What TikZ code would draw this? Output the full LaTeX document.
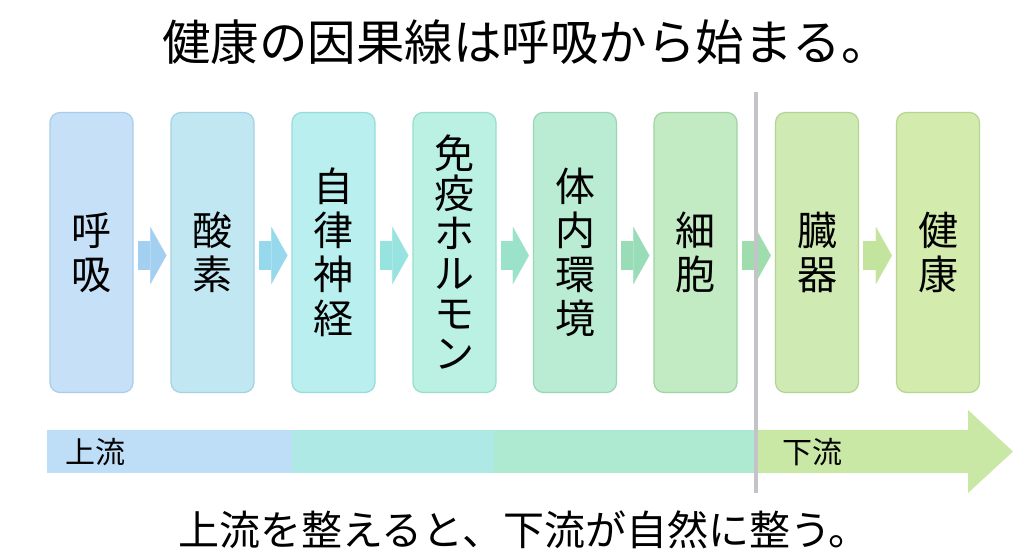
\documentclass[tikz,border=0pt]{standalone}
\usepackage{fontspec}
\setmainfont{Noto Sans CJK JP}
\usetikzlibrary{arrows.meta,calc}
\definecolor{f1}{HTML}{C6E1F7}\definecolor{d1}{HTML}{A9CDEB}
\definecolor{f2}{HTML}{C1E7F3}\definecolor{d2}{HTML}{A3D3E3}
\definecolor{f3}{HTML}{B9EFEE}\definecolor{d3}{HTML}{98DCDA}
\definecolor{f4}{HTML}{BAF1E2}\definecolor{d4}{HTML}{9ADDCB}
\definecolor{f5}{HTML}{BAEBD3}\definecolor{d5}{HTML}{98D6B6}
\definecolor{f6}{HTML}{C2EAC3}\definecolor{d6}{HTML}{A0D4A2}
\definecolor{f7}{HTML}{CFEAB3}\definecolor{d7}{HTML}{B0D593}
\definecolor{f8}{HTML}{D3EBAD}\definecolor{d8}{HTML}{B4D68E}
\definecolor{a1}{HTML}{A3CFF0}\definecolor{a2}{HTML}{97D9EC}
\definecolor{a3}{HTML}{97E3DF}\definecolor{a4}{HTML}{9BE2CB}
\definecolor{a5}{HTML}{98DDB8}\definecolor{a6}{HTML}{9FDDAF}
\definecolor{a7}{HTML}{C2E49C}
\definecolor{bandblue}{HTML}{BDDEF6}\definecolor{bandcyan}{HTML}{AEE9E5}
\definecolor{bandmint}{HTML}{AEEAD2}\definecolor{bandgreen}{HTML}{C9E8A6}
\definecolor{sepgray}{HTML}{C4C4C8}
\begin{document}
\begin{tikzpicture}[x=1pt,y=-1pt,
  stagebox/.style={rounded corners=10pt, minimum width=83pt, minimum height=280pt,
    line width=1.2pt, align=center, inner sep=0pt,
    font=\fontsize{40}{44}\selectfont},
  flow/.style={line width=29pt, -{Triangle[length=16pt,width=57pt,line width=0.1pt]},
    shorten <=4pt, shorten >=4pt},
  title/.style={font=\fontsize{48.5}{52}\selectfont, inner sep=0pt},
  caption/.style={font=\fontsize{41}{45}\selectfont, inner sep=0pt},
  bandlabel/.style={font=\fontsize{30}{34}\selectfont, inner sep=0pt}]
\useasboundingbox[fill=white] (0,0) rectangle (1024,559);

\node[title] (t) at (526,42) {健康の因果線は呼吸から始まる。};

\node[stagebox, fill=f1, draw=d1] (b1) at (91.5,252.5) {呼\\吸};
\node[stagebox, fill=f2, draw=d2] (b2) at (212.5,252.5) {酸\\素};
\node[stagebox, fill=f3, draw=d3] (b3) at (333.5,252.5) {自\\律\\神\\経};
\node[stagebox, fill=f4, draw=d4, font=\fontsize{40}{40}\selectfont] (b4) at (454.5,252.5) {免\\疫\\ホ\\ル\\モ\\ン};
\node[stagebox, fill=f5, draw=d5] (b5) at (575,252.5) {体\\内\\環\\境};
\node[stagebox, fill=f6, draw=d6] (b6) at (695.5,252.5) {細\\胞};
\node[stagebox, fill=f7, draw=d7] (b7) at (817,252.5) {臓\\器};
\node[stagebox, fill=f8, draw=d8] (b8) at (938,252.5) {健\\康};

\draw[flow, draw=a1, fill=a1] ([yshift=-3pt]b1.east) -- ([yshift=-3pt]b2.west);
\draw[flow, draw=a2, fill=a2] ([yshift=-3pt]b2.east) -- ([yshift=-3pt]b3.west);
\draw[flow, draw=a3, fill=a3] ([yshift=-3pt]b3.east) -- ([yshift=-3pt]b4.west);
\draw[flow, draw=a4, fill=a4] ([yshift=-3pt]b4.east) -- ([yshift=-3pt]b5.west);
\draw[flow, draw=a5, fill=a5] ([yshift=-3pt]b5.east) -- ([yshift=-3pt]b6.west);
\draw[flow, draw=a6, fill=a6] ([yshift=-3pt]b6.east) -- ([yshift=-3pt]b7.west);
\draw[flow, draw=a7, fill=a7] ([yshift=-3pt]b7.east) -- ([yshift=-3pt]b8.west);

% band
\fill[bandblue] (47,430) rectangle (292,473);
\fill[bandcyan] (292,430) rectangle (494,473);
\fill[bandmint] (494,430) rectangle (756,473);
\fill[bandgreen] (756,430) -- (968,430) -- (968,410) -- (1013,451.5) -- (968,493) -- (968,473) -- (756,473) -- cycle;
\node[bandlabel] (up) at (95,452) {上流};
\node[bandlabel] (down) at (812,452) {下流};

% separator
\coordinate (s1) at (756,92);
\coordinate (s2) at (756,493);
\draw[sepgray, line width=4pt] (s1) -- (s2);

\node[caption] (c) at (524,530) {上流を整えると、下流が自然に整う。};
\end{tikzpicture}
\end{document}
